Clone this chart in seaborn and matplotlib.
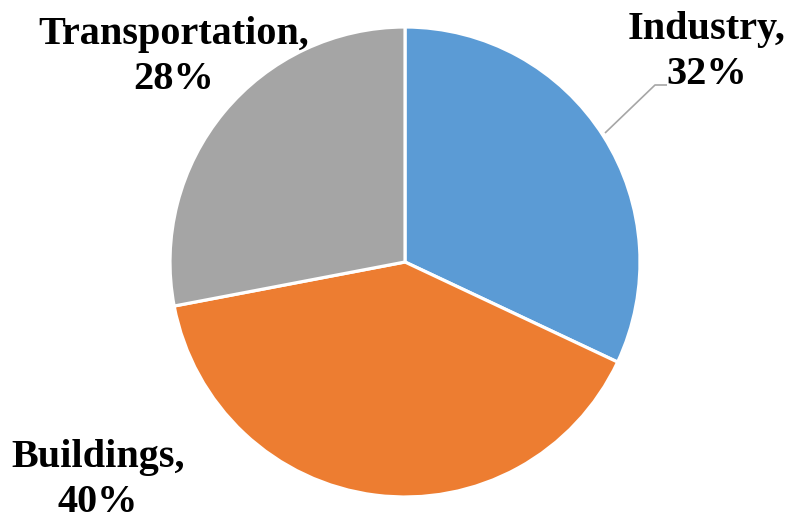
import matplotlib
matplotlib.use("Agg")
import matplotlib.pyplot as plt
import seaborn as sns

sns.set_theme(style="white")
plt.rcParams["font.family"] = ["Liberation Serif", "DejaVu Serif"]

sectors = ["Industry", "Buildings", "Transportation"]
shares = [32, 40, 28]
colors = ["#5B9BD5", "#ED7D31", "#A5A5A5"]

W, H = 791, 521
fig = plt.figure(figsize=(W / 100, H / 100), dpi=100)
ax = fig.add_axes([0, 0, 1, 1])

cx, cy, r = 405, H - 262, 235
ax.pie(shares, colors=colors, startangle=90, counterclock=False,
       center=(cx, cy), radius=r, frame=True,
       wedgeprops=dict(edgecolor="white", linewidth=2.3))
ax.set_xlim(0, W)
ax.set_ylim(0, H)
ax.set_aspect("equal")
ax.axis("off")

# data labels, placed outside the pie
label_pos = {"Industry": (707, H - 52),
             "Buildings": (98, H - 480),
             "Transportation": (174, H - 57)}
for name, val in zip(sectors, shares):
    x, y = label_pos[name]
    ax.text(x, y, f"{name},\n{val}%", ha="center", va="center",
            fontsize=29, fontweight="bold", color="black", linespacing=1.3)

# leader line for the Industry label
ax.plot([605, 655, 667], [H - 133, H - 85, H - 85], color="#A6A6A6",
        linewidth=1.2, solid_capstyle="butt")

fig.savefig("out.png", dpi=100)
